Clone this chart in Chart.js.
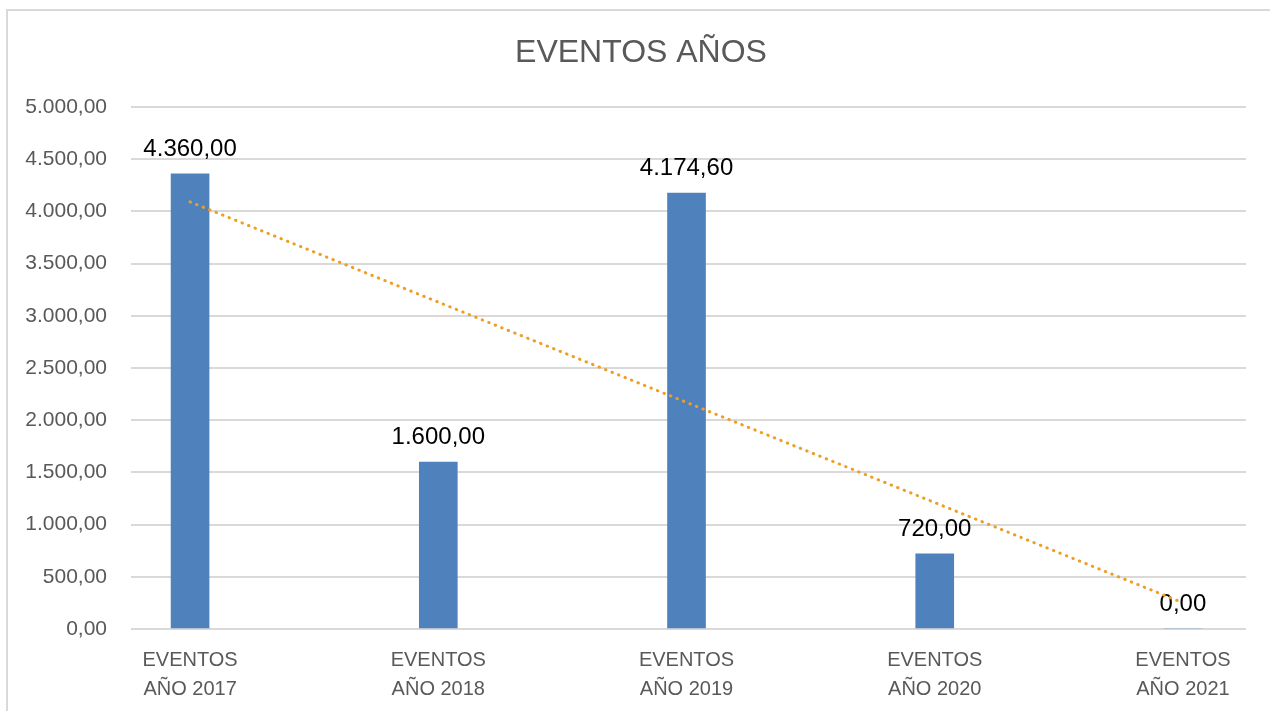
<!DOCTYPE html>
<html>
<head>
<meta charset="utf-8">
<script src="https://cdn.jsdelivr.net/npm/chart.js@4/dist/chart.umd.min.js"></script>
<style>
  html, body { margin: 0; padding: 0; background: #fff; width: 1270px; height: 711px; overflow: hidden; }
  #frame { position: absolute; left: 6px; top: 9px; width: 1270px; height: 720px;
           border-left: 2px solid #d9d9d9; border-top: 2px solid #d9d9d9; }
  #myChart { position: absolute; left: 0; top: 0; }
</style>
</head>
<body>
<div id="frame"></div>
<canvas id="myChart" width="1270" height="711"></canvas>
<script>
const ctx = document.getElementById('myChart');

// categories (two-line labels as in the sheet)
const categories = [
    ['EVENTOS', 'AÑO 2017'],
    ['EVENTOS', 'AÑO 2018'],
    ['EVENTOS', 'AÑO 2019'],
    ['EVENTOS', 'AÑO 2020'],
    ['EVENTOS', 'AÑO 2021']
];
const eventos = [4360, 1600, 4174.6, 720, 0];
// dotted trend line at each category
const tendencia = [4091, 3131, 2171, 1211, 251];

const yMax = 5000;
const yStep = 500;

const font = "'Liberation Sans', Arial, sans-serif";

function fmt(v) {
    const parts = Math.abs(v).toFixed(2).split('.');
    return (v < 0 ? '-' : '') + parts[0].replace(/\B(?=(\d{3})+(?!\d))/g, '.') + ',' + parts[1];
}

const barData = eventos.map((v, i) => ({x: i + 1, y: v}));
const trendData = tendencia.map((v, i) => ({x: i + 1, y: v}));

// value labels above bars, drawn before the trend line so the dots sit on top
const valueLabels = {
    id: 'valueLabels',
    afterDatasetDraw(chart, args) {
        if (args.index !== 1) return;
        const c = chart.ctx;
        c.save();
        c.font = '24px ' + font;
        c.fillStyle = '#000';
        c.textAlign = 'center';
        c.textBaseline = 'alphabetic';
        args.meta.data.forEach((bar, i) => {
            c.fillText(fmt(eventos[i]), bar.x, bar.y - 18);
        });
        c.restore();
    }
};

const visibleChart = new Chart(ctx, {
    type: 'bar',
    data: {
        datasets: [
            {
                type: 'line',
                label: 'Lineal (EVENTOS)',
                data: trendData,
                borderColor: '#EE9E24',
                borderWidth: 3,
                borderDash: [0.5, 6.5],
                borderCapStyle: 'round',
                pointRadius: 0,
                fill: false,
                tension: 0,
                order: 0
            },
            {
                type: 'bar',
                label: 'EVENTOS',
                data: barData,
                backgroundColor: '#4F81BD',
                barThickness: 38,
                order: 1
            }
        ]
    },
    options: {
        responsive: false,
        animation: false,
        devicePixelRatio: 1,
        layout: {
            padding: {left: 12, right: 0, top: 0, bottom: 9}
        },
        plugins: {
            legend: {display: false},
            tooltip: {enabled: false},
            title: {
                display: true,
                text: 'EVENTOS AÑOS',
                color: '#595959',
                font: {family: font, size: 32, weight: 'normal', lineHeight: 1.2},
                padding: {top: 33.5, bottom: 35.1}
            }
        },
        scales: {
            x: {
                type: 'linear',
                min: 0.762,
                max: 5.254,
                offset: false,
                grid: {display: false, drawTicks: false},
                border: {display: false},
                afterBuildTicks(scale) {
                    scale.ticks = categories.map((c, i) => ({value: i + 1}));
                },
                afterFit(scale) { scale.height = 73; },
                ticks: {
                    color: '#595959',
                    padding: 17,
                    maxRotation: 0,
                    autoSkip: false,
                    font: {family: font, size: 20, lineHeight: 1.45},
                    callback: (v) => categories[Math.round(v) - 1]
                }
            },
            y: {
                min: 0,
                max: yMax,
                afterFit(scale) { scale.width = 119; },
                grid: {color: '#d9d9d9', lineWidth: 2, drawTicks: false},
                border: {display: false},
                ticks: {
                    stepSize: yStep,
                    color: '#595959',
                    padding: 24,
                    font: {family: font, size: 21},
                    callback: (v) => fmt(v)
                }
            },
            // empty right-hand margin, as in the sheet
            margen: {
                type: 'linear',
                position: 'right',
                grid: {display: false, drawTicks: false},
                border: {display: false},
                ticks: {display: false},
                afterFit(scale) { scale.width = 24; }
            }
        }
    },
    plugins: [valueLabels]
});
</script>
</body>
</html>
